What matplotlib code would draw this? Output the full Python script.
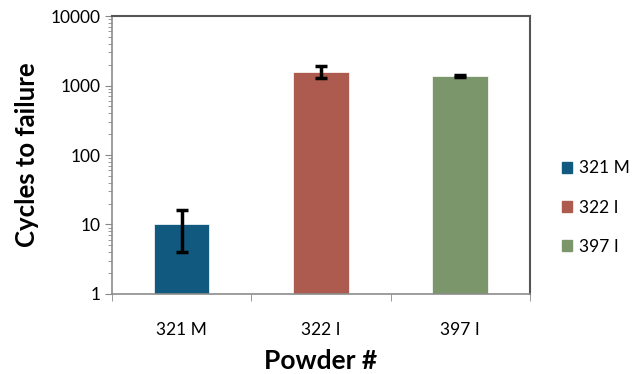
import numpy as np
import matplotlib.pyplot as plt
from matplotlib.patches import Patch

plt.rcParams['font.family'] = ['Lato', 'DejaVu Sans']

powders = ["321 M", "322 I", "397 I"]
cycles = [10, 1560, 1370]
err_low = [6, 280, 60]
err_high = [6, 330, 70]
colors = ["#12597f", "#ad5a4f", "#7b966b"]

fig = plt.figure(figsize=(6.38, 3.74), dpi=100)
ax = fig.add_axes([0.1755, 0.214, 0.655, 0.743])

x = np.arange(len(powders))
ax.bar(x, cycles, width=0.4, color=colors, edgecolor="white", linewidth=0.5, zorder=2)
ax.errorbar(x, cycles, yerr=[err_low, err_high], fmt="none", ecolor="black",
            elinewidth=2.5, capsize=4, capthick=2.5, zorder=3)

ax.set_yscale("log")
ax.set_ylim(1, 10000)
ax.set_xlim(-0.5, 2.5)
ax.set_yticks([1, 10, 100, 1000, 10000])
ax.set_yticklabels(["1", "10", "100", "1000", "10000"])
ax.set_xticks(x)
ax.set_xticklabels(powders)
ax.set_xticks([-0.5, 0.5, 1.5, 2.5], minor=True)
ax.tick_params(axis="x", which="major", length=0, labelsize=12.5, pad=20)
ax.tick_params(axis="x", which="minor", length=5, color="#888888", direction="out")
ax.tick_params(axis="y", which="major", length=5, color="#888888", labelsize=12.5)
ax.tick_params(axis="y", which="minor", length=3, color="#888888")

for side in ["left", "bottom"]:
    ax.spines[side].set_color("#8c8c8c")
    ax.spines[side].set_linewidth(1.2)
for side in ["top", "right"]:
    ax.spines[side].set_color("#555555")
    ax.spines[side].set_linewidth(1.5)

ax.set_xlabel("Powder #", fontsize=19, fontweight="bold", labelpad=8)
ax.set_ylabel("Cycles to failure", fontsize=18.5, fontweight="bold", labelpad=8)

handles = [Patch(color=c) for c in colors]
fig.legend(handles, powders, loc="center left", bbox_to_anchor=(0.856, 0.445),
           frameon=False, fontsize=12.5, handlelength=0.6, handleheight=0.6,
           handletextpad=0.4, labelspacing=1.35)

fig.savefig("out.png", dpi=100)
